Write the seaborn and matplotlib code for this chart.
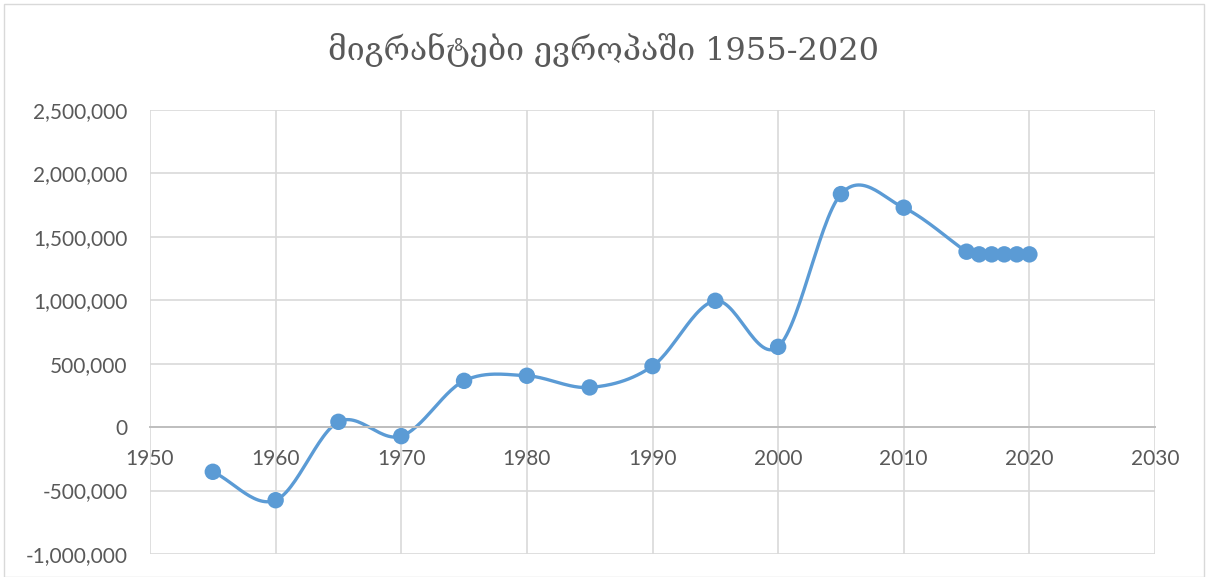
import numpy as np
import pandas as pd
import seaborn as sns
import matplotlib.pyplot as plt
from matplotlib.ticker import FuncFormatter, MultipleLocator

# data
years = [1955, 1960, 1965, 1970, 1975, 1980, 1985, 1990, 1995, 2000,
         2005, 2010, 2015, 2016, 2017, 2018, 2019, 2020]
migrants = [-352000, -576000, 42000, -71000, 365000, 405000, 313000, 481000,
            996000, 633000, 1837000, 1730000, 1383000, 1362000, 1362000,
            1362000, 1362000, 1362000]
title = "მიგრანტები ევროპაში 1955-2020"

df = pd.DataFrame({'year': years, 'migrants': migrants})

def smooth(x, y, n=30):
    """ Catmull-Rom curve through the points, like Excel's smoothed line """
    x = np.asarray(x, float)
    y = np.asarray(y, float)
    px = np.concatenate([[2 * x[0] - x[1]], x, [2 * x[-1] - x[-2]]])
    py = np.concatenate([[2 * y[0] - y[1]], y, [2 * y[-1] - y[-2]]])
    xs, ys = [], []
    t = np.linspace(0, 1, n)
    for i in range(1, len(px) - 2):
        p0, p1, p2, p3 = [np.array([px[j], py[j]]) for j in range(i - 1, i + 3)]
        b1 = p1 + (p2 - p0) / 6
        b2 = p2 - (p3 - p1) / 6
        pts = ((1 - t) ** 3)[:, None] * p1 + (3 * (1 - t) ** 2 * t)[:, None] * b1 \
            + (3 * (1 - t) * t ** 2)[:, None] * b2 + (t ** 3)[:, None] * p2
        xs.extend(pts[:, 0])
        ys.extend(pts[:, 1])
    return pd.DataFrame({'year': xs, 'migrants': ys})

curve = smooth(df.year, df.migrants)

sns.set_style('white')
plt.rcParams['font.family'] = ['Lato', 'DejaVu Sans']

fig = plt.figure(figsize=(12.08, 5.77), dpi=100)
ax = fig.add_axes([150 / 1208, 1 - 554 / 577, 1005 / 1208, 444 / 577])

grey = '#595959'
blue = '#5B9BD5'

sns.lineplot(data=curve, x='year', y='migrants', ax=ax, color=blue, lw=2.4,
             sort=False, estimator=None)
sns.scatterplot(data=df, x='year', y='migrants', ax=ax, color=blue, s=140,
                edgecolor='none', zorder=5)

ax.set_xlim(1950, 2030)
ax.set_ylim(-1000000, 2500000)
ax.xaxis.set_major_locator(MultipleLocator(10))
ax.yaxis.set_major_locator(MultipleLocator(500000))
ax.yaxis.set_major_formatter(FuncFormatter(lambda v, p: f'{int(v):,}'))
ax.grid(True, color='#D9D9D9', lw=1.2)
ax.set_axisbelow(True)

for s in ['top', 'right', 'left']:
    ax.spines[s].set_visible(False)
ax.spines['bottom'].set_position(('data', 0))
ax.spines['bottom'].set_color('#BFBFBF')
ax.spines['bottom'].set_linewidth(1.4)
ax.tick_params(axis='both', length=0, labelsize=15, labelcolor=grey)
ax.tick_params(axis='y', pad=16)
ax.tick_params(axis='x', pad=16)
ax.set_xlabel('')
ax.set_ylabel('')

fig.text(0.5, 1 - 50 / 577, title, ha='center', va='center', fontsize=23,
         color=grey, family=['DejaVu Serif', 'DejaVu Sans'])

# chart border
fig.patches.append(plt.Rectangle((4 / 1208, 0), 1 - 8 / 1208, 1 - 4 / 577,
                                 transform=fig.transFigure, fill=False,
                                 edgecolor='#D9D9D9', lw=1))

fig.savefig('out.png', dpi=100)
